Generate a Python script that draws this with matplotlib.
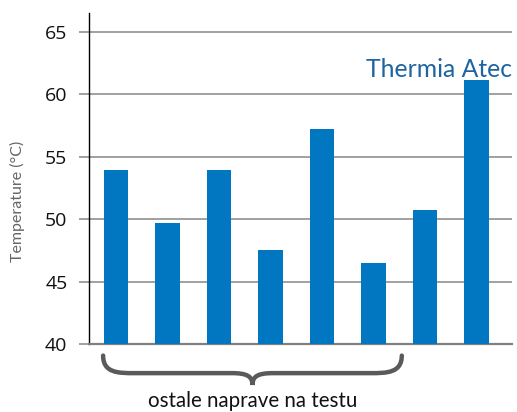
import matplotlib.pyplot as plt
from matplotlib.path import Path
from matplotlib.patches import PathPatch
import matplotlib.transforms as mtransforms
import numpy as np

# bar heights, the last one is Thermia Atec
temps = [53.9, 49.7, 53.9, 47.5, 57.2, 46.5, 50.7, 61.1]
yticks = [40, 45, 50, 55, 60, 65]
highlight_label = "Thermia Atec"
group_label = "ostale naprave na testu"
ylabel = "Temperature (°C)"

plt.rcParams['font.family'] = ['Open Sans', 'DejaVu Sans']
narrow = ['Lato', 'DejaVu Sans']

fig = plt.figure(figsize=(5.17, 4.12), dpi=100)
ax = fig.add_axes([89 / 517, 68 / 412, 423 / 517, 331 / 412])

x = np.arange(len(temps))
ax.bar(x, np.array(temps) - 40, bottom=40, width=0.47, color="#0077c0", zorder=3)

ax.set_xlim(-0.524, 7.69)
ax.set_ylim(40, 66.5)
ax.set_yticks(yticks)
ax.set_xticks([])
ax.grid(axis="y", color="#999999", linewidth=1.3, zorder=0)
ax.tick_params(axis="y", length=7, width=1.3, color="#999999", pad=8.5,
               labelsize=14, labelcolor="#111111")

for side in ["top", "right"]:
    ax.spines[side].set_visible(False)
ax.spines["left"].set_color("black")
ax.spines["left"].set_linewidth(1.0)
ax.spines["bottom"].set_color("#808080")
ax.spines["bottom"].set_linewidth(1.6)

ax.set_ylabel(ylabel, fontsize=11.5, color="#666666", family=narrow)
ax.yaxis.set_label_coords(-0.152, 0.43)

# label over the last bar
ax.text(7.69, 61.4, highlight_label, ha="right", va="baseline", fontsize=17.8,
        color="#1d64a0", family=narrow)

# curly brace under the first six bars (x in data, y in axes units)
trans = mtransforms.blended_transform_factory(ax.transData, ax.transAxes)
x0, x1 = -0.25, 5.55
xm = (x0 + x1) / 2
ytop, ymid, ytip = -0.035, -0.088, -0.124
verts = [
    (x0, ytop), (x0, ymid), (x0 + 0.3, ymid), (x0 + 0.6, ymid),
    (xm - 0.4, ymid),
    (xm - 0.1, ymid), (xm, ymid - 0.01), (xm, ytip),
    (xm, ymid - 0.01), (xm + 0.1, ymid), (xm + 0.4, ymid),
    (x1 - 0.6, ymid),
    (x1 - 0.3, ymid), (x1, ymid), (x1, ytop),
]
codes = [Path.MOVETO, Path.CURVE4, Path.CURVE4, Path.CURVE4,
         Path.LINETO,
         Path.CURVE4, Path.CURVE4, Path.CURVE4,
         Path.CURVE4, Path.CURVE4, Path.CURVE4,
         Path.LINETO,
         Path.CURVE4, Path.CURVE4, Path.CURVE4]
brace = PathPatch(Path(verts, codes), facecolor="none", edgecolor="#5a5a5a",
                  linewidth=3.2, transform=trans, clip_on=False, capstyle="round")
ax.add_patch(brace)

ax.text(xm, -0.19, group_label, transform=trans, ha="center", va="baseline",
        fontsize=14.8, color="#111111", family=narrow)

fig.savefig("out.png", dpi=100)
